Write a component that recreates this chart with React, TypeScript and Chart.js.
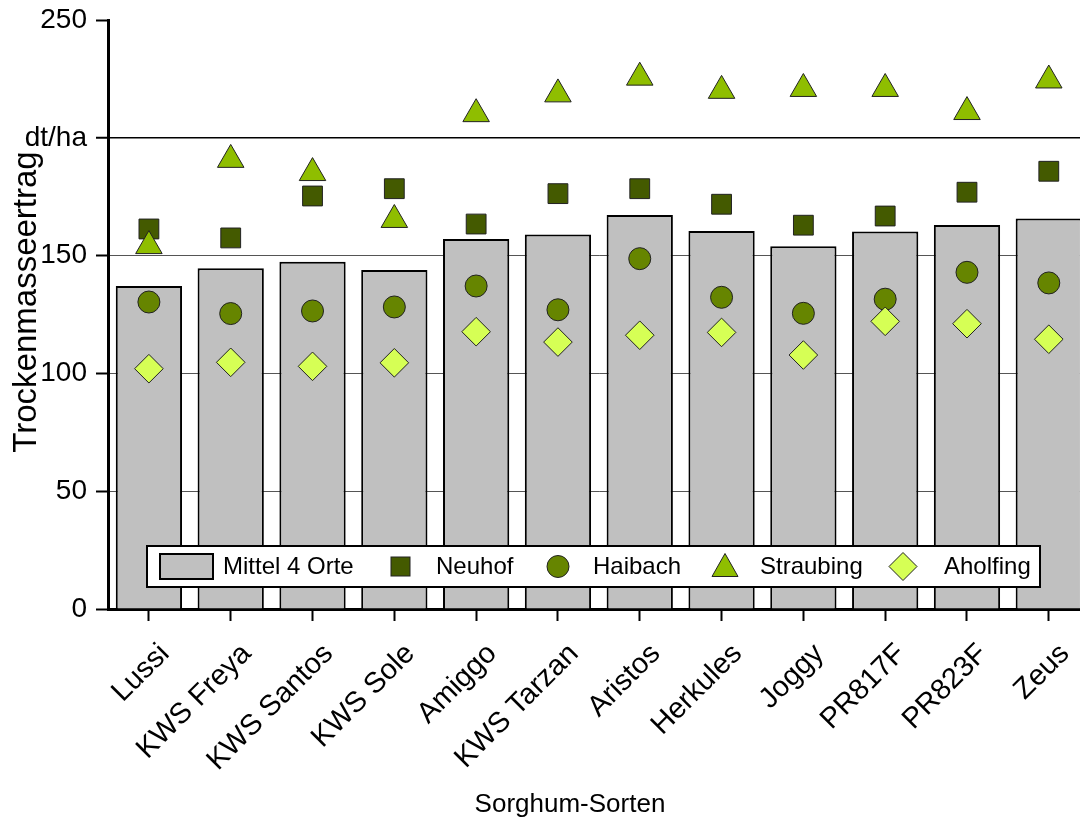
import React, { useEffect, useRef } from 'react';
import { Chart, registerables } from 'chart.js';

Chart.register(...registerables);

const categories = ['Lussi', 'KWS Freya', 'KWS Santos', 'KWS Sole', 'Amiggo', 'KWS Tarzan', 'Aristos', 'Herkules', 'Joggy', 'PR817F', 'PR823F', 'Zeus'];
const mittel = [137.1, 144.6, 147.4, 143.9, 157.0, 159.0, 167.2, 160.4, 154.0, 160.2, 163.0, 165.7];
const neuhof = [161.3, 157.5, 175.3, 178.4, 163.4, 176.3, 178.4, 171.8, 162.9, 166.8, 176.9, 185.8];
const haibach = [130.3, 125.4, 126.5, 128.2, 137.1, 127.0, 148.7, 132.3, 125.5, 131.5, 142.9, 138.4];
const straubing = [154.1, 190.7, 185.1, 165.2, 210.1, 218.5, 225.6, 220.0, 220.8, 220.8, 211.0, 224.4];
const aholfing = [102.0, 104.7, 103.0, 104.5, 117.7, 113.3, 116.2, 117.4, 107.8, 122.1, 121.1, 114.5];
const yTickValues = [0, 50, 100, 150, 200, 250];
const yTickLabels = ['0', '50', '100', '150', 'dt/ha', '250'];
const seriesNames = ['Mittel 4 Orte', 'Neuhof', 'Haibach', 'Straubing', 'Aholfing'];
const xTitle = 'Sorghum-Sorten';
const yTitle = 'Trockenmasseertrag';

const FONT = "'Liberation Sans', Arial, sans-serif";
const C_BAR = '#c0c0c0';
const C_NEUHOF = '#445a00';
const C_HAIBACH = '#668500';
const C_STRAUB = '#8fbe00';
const C_AHOLF = '#d6ff55';

const legendPlugin = {
  id: 'boxLegend',
  afterDatasetsDraw(chart: any) {
    const ctx = chart.ctx;
    ctx.save();
    const x0 = 147, y0 = 546, x1 = 1040, y1 = 587;
    const cy = (y0 + y1) / 2;
    ctx.fillStyle = '#fff';
    ctx.fillRect(x0, y0, x1 - x0, y1 - y0);
    ctx.lineWidth = 2;
    ctx.strokeStyle = '#000';
    ctx.strokeRect(x0, y0, x1 - x0, y1 - y0);

    // bar swatch
    ctx.fillStyle = C_BAR;
    ctx.fillRect(160, 554, 53, 25);
    ctx.lineWidth = 2;
    ctx.strokeStyle = '#000';
    ctx.strokeRect(160, 554, 53, 25);
    ctx.lineWidth = 1;
    ctx.strokeStyle = '#222';
    // square
    ctx.fillStyle = C_NEUHOF;
    ctx.fillRect(391, cy - 9.5, 19, 19);
    ctx.strokeRect(391, cy - 9.5, 19, 19);
    // circle
    ctx.fillStyle = C_HAIBACH;
    ctx.beginPath();
    ctx.arc(558, cy, 11, 0, Math.PI * 2);
    ctx.fill();
    ctx.stroke();
    // triangle
    ctx.fillStyle = C_STRAUB;
    ctx.beginPath();
    ctx.moveTo(725, cy - 13);
    ctx.lineTo(725 + 13, cy + 10);
    ctx.lineTo(725 - 13, cy + 10);
    ctx.closePath();
    ctx.fill();
    ctx.stroke();
    // diamond
    ctx.fillStyle = C_AHOLF;
    ctx.beginPath();
    ctx.moveTo(903, cy - 14);
    ctx.lineTo(917, cy);
    ctx.lineTo(903, cy + 14);
    ctx.lineTo(889, cy);
    ctx.closePath();
    ctx.fill();
    ctx.stroke();

    ctx.fillStyle = '#000';
    ctx.font = `24px ${FONT}`;
    ctx.textBaseline = 'middle';
    ctx.textAlign = 'left';
    const tx = [223, 436, 593, 760, 944];
    seriesNames.forEach((n, i) => ctx.fillText(n, tx[i], cy + 1));
    ctx.restore();
  },
  afterDraw(chart: any) {
    const ctx = chart.ctx;
    ctx.save();
    ctx.fillStyle = '#000';
    ctx.textAlign = 'center';
    ctx.textBaseline = 'alphabetic';
    ctx.font = `26px ${FONT}`;
    ctx.fillText(xTitle, 570, 812);
    ctx.translate(36, 302);
    ctx.rotate(-Math.PI / 2);
    ctx.font = `33px ${FONT}`;
    ctx.fillText(yTitle, 0, 0);
    ctx.restore();
  },
};

export default function App() {
  const ref = useRef<HTMLCanvasElement>(null);
  useEffect(() => {
    if (!ref.current) return;
    Chart.defaults.color = '#000';
    Chart.defaults.font.family = FONT;
    const pointDs = (label: string, data: number[], style: string, color: string, r: number, order: number) => ({
      type: 'line' as const,
      label,
      data,
      showLine: false,
      pointStyle: style,
      pointRadius: r,
      pointHoverRadius: r,
      pointBackgroundColor: color,
      pointBorderColor: '#222',
      pointBorderWidth: 1,
      backgroundColor: color,
      borderColor: '#222',
      order,
    });
    const chart = new Chart(ref.current, {
      type: 'bar',
      data: {
        labels: categories,
        datasets: [
          {
            type: 'bar',
            label: seriesNames[0],
            data: mittel,
            backgroundColor: C_BAR,
            borderColor: '#000',
            borderWidth: 2,
            barPercentage: 0.81,
            categoryPercentage: 1,
            order: 5,
          } as any,
          pointDs(seriesNames[1], neuhof, 'rect', C_NEUHOF, 14, 4),
          pointDs(seriesNames[2], haibach, 'circle', C_HAIBACH, 11, 3),
          pointDs(seriesNames[3], straubing, 'triangle', C_STRAUB, 15.3, 2),
          pointDs(seriesNames[4], aholfing, 'rectRot', C_AHOLF, 14.3, 1),
        ],
      },
      options: {
        responsive: false,
        animation: false,
        layout: { padding: { top: 20, right: 2, left: 0, bottom: 0 } },
        plugins: { legend: { display: false }, tooltip: { enabled: false } },
        scales: {
          x: {
            offset: true,
            grid: { drawOnChartArea: false, offset: false, tickLength: 12, tickColor: '#000', tickWidth: 2 },
            border: { display: true, color: '#000', width: 3 },
            ticks: { minRotation: 45, maxRotation: 45, font: { size: 29 }, color: '#000', padding: 16, labelOffset: 16, autoSkip: false },
            title: { display: false },
            afterFit: (s: any) => {
              s.height = 212;
              s.paddingLeft = 0;
              s.paddingRight = 0;
            },
          },
          y: {
            min: 0,
            max: 250,
            afterBuildTicks: (s: any) => { s.ticks = yTickValues.map((v) => ({ value: v })); },
            grid: {
              color: (c: any) => {
                const v = c.tick ? c.tick.value : 0;
                if (v === 200) return '#000';
                if (v === 0 || v === 250) return 'rgba(0,0,0,0)';
                return '#555';
              },
              lineWidth: (c: any) => (c.tick && c.tick.value === 200 ? 1.5 : 1),
              tickColor: '#000',
              tickLength: 12,
              tickWidth: 2,
            },
            border: { display: true, color: '#000', width: 3 },
            ticks: {
              font: { size: 28 },
              color: '#000',
              padding: 9,
              callback: (v: any) => {
                const i = yTickValues.indexOf(Number(v));
                return i >= 0 ? yTickLabels[i] : '';
              },
            },
            title: { display: false },
            afterFit: (s: any) => {
              s.width = 108;
              s.paddingTop = 0;
              s.paddingBottom = 0;
            },
          },
        },
      },
      plugins: [legendPlugin],
    } as any);
    return () => chart.destroy();
  }, []);
  return (
    <div style={{ position: 'absolute', left: 0, top: 0, width: 1080, height: 821, overflow: 'hidden', background: '#fff' }}>
      <div style={{ width: 1120, height: 821 }}>
        <canvas ref={ref} width={1106} height={821} style={{ display: 'block', width: 1106, height: 821 }} />
      </div>
    </div>
  );
}
